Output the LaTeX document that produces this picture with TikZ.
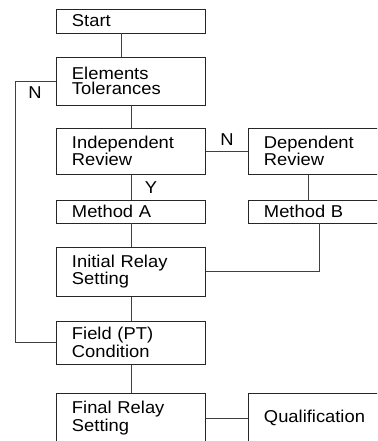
\documentclass[tikz,border=0pt]{standalone}
\usepackage{fontspec}
\setmainfont{Liberation Sans}[FakeStretch=1.07,WordSpace=1.8]
\usetikzlibrary{positioning,calc}

\begin{document}
\begin{tikzpicture}[
    x=0.025cm, y=-0.025cm,
    box/.style={draw=black!85, line width=0.7pt, rectangle, minimum width=3.7cm, inner xsep=0.375cm, inner ysep=0pt, text width=2.95cm, align=left, font=\fontsize{12.2pt}{10.9pt}\selectfont},
    ln/.style={draw=black!75, line width=0.7pt},
    lbl/.style={inner sep=0pt, font=\fontsize{12.2pt}{10.9pt}\selectfont}
]
\useasboundingbox (0,0) rectangle (377,441);
\clip (0,0) rectangle (377,441);
\fill[white] (0,0) rectangle (377,441);

% left column
\node[box, minimum height=0.6cm] (start) at (131,21) {Start};
\node[box, minimum height=1.2cm] (elem) at (131,81) {Elements\\Tolerances};
\node[box, minimum height=1.15cm] (indep) at (131,151) {Independent\\Review};
\node[box, minimum height=0.575cm] (metha) at (131,211.5) {Method A};
\node[box, minimum height=1.225cm] (init) at (131,271.5) {Initial Relay\\Setting};
\node[box, minimum height=1.075cm] (field) at (131,342.5) {Field (PT)\\Condition};
\node[box, minimum height=1.25cm] (final) at (131,418) {Final Relay\\Setting};

% right column
\node[box, minimum height=1.15cm] (dep) at (323,151) {Dependent\\Review};
\node[box, minimum height=0.575cm] (methb) at (323,211.5) {Method B};
\node[box, minimum height=1.25cm] (qual) at (323,418) {Qualification};

\coordinate (lft) at (15,0);

% connectors
\draw[ln] ([xshift=-0.25cm]start.south) -- ([xshift=-0.25cm]elem.north);
\draw[ln] (elem) -- (indep);
\draw[ln] (indep) -- (metha);
\draw[ln] (metha) -- (init);
\draw[ln] (init) -- (field);
\draw[ln] (field) -- (final);
\draw[ln] (elem.west) -| (lft |- field.west) -- (field.west);
\draw[ln] (indep.east) -- (dep.west);
\draw[ln] ([xshift=-0.375cm]dep.south) -- ([xshift=-0.375cm]methb.north);
\draw[ln] ([xshift=-0.1cm]methb.south) |- (init.east);
\draw[ln] (final.east) -- (qual.west);

% labels
\node[lbl] (nleft) at (35,93) {N};
\node[lbl] (nright) at (227,140) {N};
\node[lbl] (yes) at (151,188) {Y};
\end{tikzpicture}
\end{document}
